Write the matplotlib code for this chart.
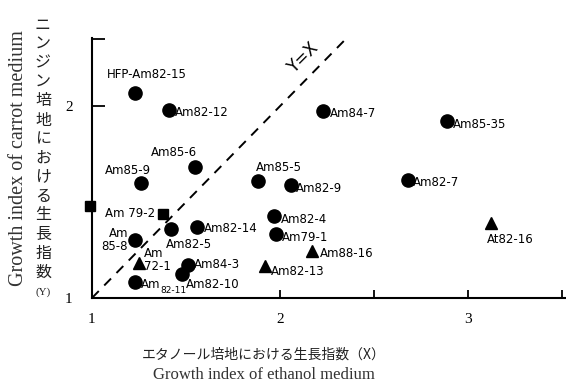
import matplotlib.pyplot as plt
from matplotlib.ticker import FixedLocator

# growth index on ethanol medium (X) and carrot medium (Y)
circ_names = ['HFP-Am82-15', 'Am82-12', 'Am85-6', 'Am85-9', 'Am82-5', 'Am82-14',
              'Am85-8', 'Am84-3', 'Am82-10', 'Am82-11', 'Am79-1', 'Am82-4',
              'Am85-5', 'Am82-9', 'Am84-7', 'Am85-35', 'Am82-7']
circ_x = [1.23, 1.41, 1.55, 1.26, 1.42, 1.56, 1.23, 1.51, 1.48, 1.23, 1.98, 1.97,
          1.88, 2.06, 2.23, 2.89, 2.68]
circ_y = [2.07, 1.98, 1.68, 1.60, 1.36, 1.37, 1.30, 1.17, 1.125, 1.083, 1.333, 1.427,
          1.61, 1.59, 1.974, 1.92, 1.615]

sq_names = ['Am72-5', 'Am 79-2']
sq_x = [0.99, 1.38]
sq_y = [1.48, 1.44]

tri_names = ['Am\n72-1', 'Am82-13', 'Am88-16', 'At82-16']
tri_x = [1.25, 1.92, 2.17, 3.12]
tri_y = [1.18, 1.167, 1.245, 1.39]

# label offsets in pixels (dx, dy, ha, va)
circ_off = [(-28, 12, 'left', 'bottom'), (6, -3, 'left', 'center'), (2, 8, 'right', 'bottom'),
            (10, 6, 'right', 'bottom'), (-5, -9, 'left', 'top'), (7, -2, 'left', 'center'),
            (-7, 0, 'right', 'center'), (6, 1, 'left', 'center'), (4, -4, 'left', 'top'),
            (6, -2, 'left', 'center'), (6, -3, 'left', 'center'), (6, -3, 'left', 'center'),
            (-2, 7, 'left', 'bottom'), (5, -4, 'left', 'center'), (7, -2, 'left', 'center'),
            (5, -3, 'left', 'center'), (5, -3, 'left', 'center')]
sq_off = [(6, 6, 'left', 'bottom'), (-8, 0, 'right', 'center')]
tri_off = [(5, 3, 'left', 'center'), (6, -6, 'left', 'center'), (8, -3, 'left', 'center'),
           (-4, -10, 'left', 'top')]

plt.rcParams['font.family'] = ['DejaVu Sans']
fig = plt.figure(figsize=(5.66, 3.83), dpi=100)
ax = fig.add_axes([0.1625, 0.222, 0.8375, 0.679])

ax.plot(circ_x, circ_y, 'o', color='black', markersize=9.5, clip_on=False)
ax.plot(sq_x, sq_y, 's', color='black', markersize=7.5, clip_on=False)
ax.plot(tri_x, tri_y, '^', color='black', markersize=9, clip_on=False)

ax.plot([1, 2.39], [1, 2.39], color='black', lw=1.4, dashes=(5, 4))
ax.text(2.12, 2.25, 'Y=X', rotation=45, fontsize=12, ha='center', va='center')

lab_kw = dict(textcoords='offset pixels', fontsize=8.5, family='DejaVu Sans',
              linespacing=1.0)
for names, xs, ys, offs in [(circ_names, circ_x, circ_y, circ_off),
                            (sq_names, sq_x, sq_y, sq_off),
                            (tri_names, tri_x, tri_y, tri_off)]:
    for n, x, y, (dx, dy, ha, va) in zip(names, xs, ys, offs):
        if n == 'Am85-8':
            n = 'Am\n85-8'
        if n == 'Am82-11':
            ax.annotate('Am', (x, y), xytext=(dx, dy), ha=ha, va=va, **lab_kw)
            ax.annotate('82-11', (x, y), xytext=(dx + 19, dy - 6), ha=ha, va=va,
                        textcoords='offset pixels', fontsize=6.5)
            continue
        ax.annotate(n, (x, y), xytext=(dx, dy), ha=ha, va=va, **lab_kw)

ax.set_xlim(1, 3.52)
ax.set_ylim(1, 2.355)
for s in ['top', 'right']:
    ax.spines[s].set_visible(False)
for s in ['left', 'bottom']:
    ax.spines[s].set_linewidth(1.5)

ax.set_xticks([1, 2, 3])
ax.set_xticklabels(['1', '2', '3'], family='Liberation Serif', fontsize=11)
ax.xaxis.set_minor_locator(FixedLocator([2.5, 3.5]))
ax.set_yticks([1, 2])
ax.set_yticklabels(['1', '2'], family='Liberation Serif', fontsize=11)
ax.yaxis.set_minor_locator(FixedLocator([2.35]))
ax.tick_params(axis='both', which='both', direction='in', width=1.3, color='black')
ax.tick_params(axis='x', which='both', length=6, pad=11)
ax.tick_params(axis='y', which='both', length=9, pad=14)

# y axis titles
fig.text(19 / 566, 1 - 158 / 383, 'Growth index of carrot medium', rotation=90,
         family='Liberation Serif', fontsize=14.5, ha='center', va='center', color='#333333')
jp = 'ニンジン培地における生長指数'
for i, ch in enumerate(jp):
    fig.text(43 / 566, 1 - (25 + 19 * i) / 383, ch, family=['Noto Sans CJK JP'],
             fontsize=11.5, ha='center', va='center', color='#222222')
fig.text(43 / 566, 1 - 292 / 383, '(Y)', family='Liberation Serif', fontsize=8,
         ha='center', va='center', color='#222222')

# x axis titles
fig.text(264 / 566, 1 - 355 / 383, 'エタノール培地における生長指数（X）',
         family=['Noto Sans CJK JP'], fontsize=10, ha='center', va='center', color='#222222')
fig.text(264 / 566, 1 - 375 / 383, 'Growth index of ethanol medium',
         family='Liberation Serif', fontsize=12, ha='center', va='center', color='#333333')

fig.savefig('out.png', dpi=100)
